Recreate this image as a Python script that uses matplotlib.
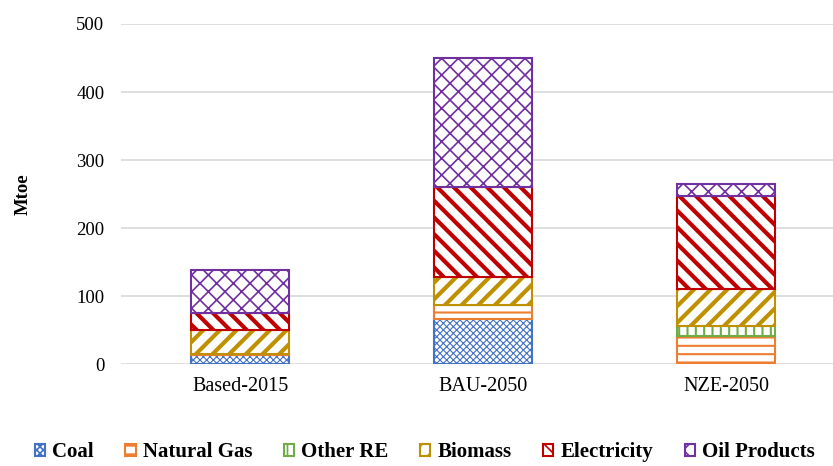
import matplotlib
matplotlib.use("Agg")
import matplotlib.pyplot as plt
import numpy as np

plt.rcParams['font.family'] = ['Liberation Serif', 'DejaVu Serif']

categories = ["Based-2015", "BAU-2050", "NZE-2050"]
coal = [13, 67, 0]
natural_gas = [2, 20, 41]
other_re = [0, 0, 16]
biomass = [35, 41, 54]
electricity = [26, 133, 137]
oil_products = [63, 189, 17]

series = [
    ("Coal", coal, "#4472C4", "xxxxx", 0.8),
    ("Natural Gas", natural_gas, "#ED7D31", "--", 1.5),
    ("Other RE", other_re, "#70AD47", "||", 1.5),
    ("Biomass", biomass, "#BF9000", "//", 3.0),
    ("Electricity", electricity, "#C00000", "\\\\", 3.0),
    ("Oil Products", oil_products, "#7030A0", "xx", 1.2),
]

fig = plt.figure(figsize=(8.33, 4.66), dpi=100)
ax = fig.add_axes([121/833, 1-364.3/466, 1-121/833, (364.3-24)/466])

x = np.arange(len(categories))
bottom = np.zeros(len(categories))
handles = []
for name, vals, col, hatch, hlw in series:
    plt.rcParams['hatch.linewidth'] = hlw
    vals = np.array(vals, dtype=float)
    b = ax.bar(x, vals, 0.40, bottom=bottom, color='white', edgecolor=col,
               hatch=hatch, linewidth=1.5, label=name, zorder=3)
    handles.append(b)
    bottom += vals

ax.set_xlim(-0.49, 2.44)
ax.set_ylim(0, 500)
ax.set_yticks([0, 100, 200, 300, 400, 500])
ax.set_xticks(x)
ax.set_xticklabels(categories, fontsize=14.5)
ax.tick_params(axis='y', labelsize=13.5, length=0, pad=12)
ax.tick_params(axis='x', length=0, pad=9)
for s in ax.spines.values():
    s.set_visible(False)
ax.grid(axis='y', color='#D9D9D9', linewidth=1.2, zorder=0)
ax.set_axisbelow(True)
ax.set_ylabel("Mtoe", fontsize=13.5, fontweight='bold')
ax.yaxis.set_label_coords(-0.126, 0.5)

fig.legend(handles=handles, labels=[s[0] for s in series], loc='lower center',
           bbox_to_anchor=(0.51, -0.032), ncol=6, frameon=False,
           prop={'weight': 'bold', 'size': 15}, handlelength=0.5, handleheight=0.5,
           handletextpad=0.35, columnspacing=1.5)

fig.savefig("out.png", dpi=100)
